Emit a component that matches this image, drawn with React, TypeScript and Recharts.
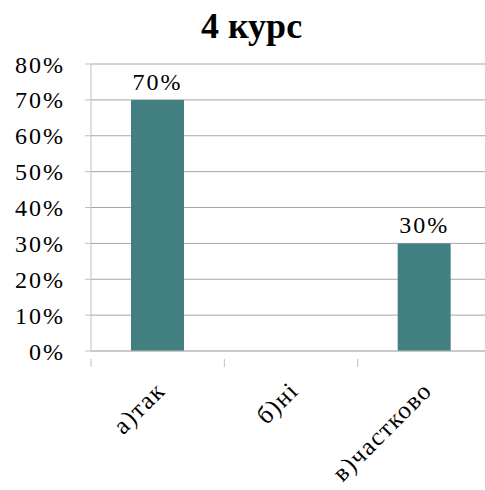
import { BarChart, Bar, XAxis, YAxis, CartesianGrid, LabelList } from 'recharts'

const categories = ['а)так', 'б)ні', 'в)частково']
const shares = [0.7, 0, 0.3]
const yTicks = [0, 0.1, 0.2, 0.3, 0.4, 0.5, 0.6, 0.7, 0.8]
const title = '4 курс'

const data = categories.map((name, i) => ({ name, value: shares[i] }))

const font = 'Liberation Serif'
const pct = (v: number) => `${Math.round(v * 100)}%`

function CategoryTick(props: any) {
  const { x, y, payload, width, visibleTicksCount, index } = props
  const band = width / visibleTicksCount
  const left = x - band / 2
  const last = index === visibleTicksCount - 1
  const tx = x + 9
  const ty = y + 33
  return (
    <g>
      <line x1={left} x2={left} y1={y} y2={y + 8} stroke="#bfbfbf" />
      {last && <line x1={left + band} x2={left + band} y1={y} y2={y + 8} stroke="#bfbfbf" />}
      <text
        x={tx}
        y={ty}
        transform={`rotate(-45, ${tx}, ${ty})`}
        textAnchor="end"
        style={{ fontFamily: font, fontSize: 25, letterSpacing: 1.5 }}
        fill="#000"
      >
        {payload.value}
      </text>
    </g>
  )
}

export default function App() {
  return (
    <div style={{ position: 'absolute', left: 0, top: 0, width: 485, height: 490, overflow: 'hidden', background: '#fff' }}>
      <div
        style={{
          position: 'absolute',
          left: 0,
          width: 503,
          top: 6,
          textAlign: 'center',
          fontFamily: font,
          fontWeight: 'bold',
          fontSize: 36,
          lineHeight: '40px',
        }}
      >
        {title}
      </div>
      <BarChart width={491} height={490} data={data} margin={{ top: 64, right: 0, left: 0, bottom: 0 }} barCategoryGap="30%">
        <CartesianGrid vertical={false} stroke="#a6a6a6" />
        <XAxis
          dataKey="name"
          height={139}
          stroke="#bfbfbf"
          tickLine={false}
          interval={0}
          tick={<CategoryTick />}
        />
        <YAxis
          width={91}
          domain={[0, 0.8]}
          ticks={yTicks}
          tickFormatter={pct}
          stroke="#bfbfbf"
          tickSize={6}
          tickMargin={20}
          tick={{ fill: '#000', style: { fontFamily: font, fontSize: 24, letterSpacing: 2 } }}
        />
        <Bar dataKey="value" fill="#427f81" barSize={53} isAnimationActive={false}>
          <LabelList
            dataKey="value"
            position="top"
            offset={10}
            formatter={(v: any) => (v > 0 ? pct(v) : '')}
            style={{ fill: '#000', fontFamily: font, fontSize: 24, letterSpacing: 2 }}
          />
        </Bar>
      </BarChart>
    </div>
  )
}
